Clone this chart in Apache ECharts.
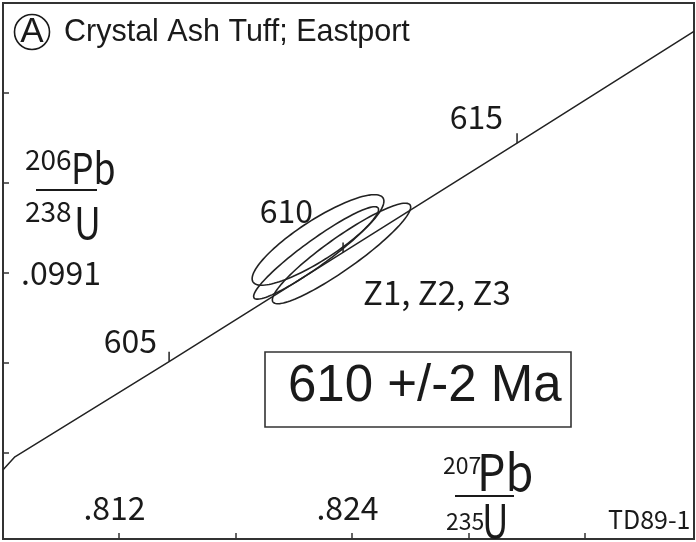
<!DOCTYPE html>
<html>
<head>
<meta charset="utf-8">
<script src="https://cdn.jsdelivr.net/npm/echarts@6/dist/echarts.min.js"></script>
<style>
  html, body { margin: 0; padding: 0; background: #fff; }
  #chart { width: 696px; height: 542px; }
</style>
</head>
<body>
<div id="chart"></div>
<script>
// Concordia curve (207Pb/235U vs 206Pb/238U)
const concX = [0.80603, 0.80664, 0.81458, 0.82354, 0.83250, 0.84161];
const concY = [0.09757, 0.09767, 0.09841, 0.09926, 0.10011, 0.10098];

// Age marks on the concordia (Ma)
const ages = [605, 610, 615];
const ageX = [0.81458, 0.82354, 0.83250];
const ageY = [0.09841, 0.09926, 0.10011];

// Zircon error ellipses Z1, Z2, Z3: centre, half-widths and correlation
const ellipseX = [0.82225, 0.82215, 0.82346];
const ellipseY = [0.099357, 0.099256, 0.099252];
const ellipseErrX = [0.003393, 0.003216, 0.003562];
const ellipseErrY = [0.0003522, 0.0003596, 0.000391];
const ellipseRho = [0.855, 0.939, 0.922];

// Axis ticks and labelled values
const xTicks = [0.812, 0.818, 0.824, 0.830, 0.836];
const xLabels = [0.812, 0.824];
const yTicks = [0.0977, 0.0984, 0.0991, 0.0998, 0.1005];
const yLabels = [0.0991];

const NUM_FONT = '"Noto Sans CJK KR", "Noto Sans", sans-serif';
const TITLE_FONT = '"Liberation Sans", Arial, sans-serif';
const INK = '#1a1a1a';

// label placement relative to each age mark (px)
const ageLabelOffsets = [[-12, -21], [-30, -42], [-14, -26]];

const trimZero = v => String(v).replace(/^0/, '');

const chart = echarts.init(document.getElementById('chart'), null, { renderer: 'canvas' });

// left-anchored text helper for the annotation layer
function label(text, x, y, size, family, sx) {
  return {
    type: 'text', x: x, y: y, scaleX: sx || 1,
    style: { text: text, align: 'left', verticalAlign: 'middle',
      font: size + 'px ' + family, fill: INK }
  };
}

const option = {
  backgroundColor: '#ffffff',
  animation: false,
  grid: {
    left: 3, right: 2, top: 3, bottom: 3,
    show: true, borderColor: '#333', borderWidth: 2, backgroundColor: 'transparent'
  },
  xAxis: {
    type: 'value',
    min: 0.806026, max: 0.841613,
    splitLine: { show: false },
    axisLine: { show: false },
    axisTick: { show: true, inside: true, length: 6, customValues: xTicks,
      lineStyle: { color: '#333', width: 1.5 } },
    axisLabel: {
      show: true, inside: true, customValues: xLabels,
      formatter: trimZero, margin: 31, verticalAlign: 'middle',
      fontFamily: NUM_FONT, fontSize: 32, color: INK, padding: [0, 9, 0, 0]
    }
  },
  yAxis: {
    type: 'value',
    min: 0.097031, max: 0.1012,
    splitLine: { show: false },
    axisLine: { show: false },
    axisTick: { show: true, inside: true, length: 6, customValues: yTicks,
      lineStyle: { color: '#333', width: 1.5 } },
    axisLabel: {
      show: true, inside: true, customValues: yLabels,
      formatter: trimZero, margin: 18, align: 'left', verticalAlign: 'middle',
      fontFamily: NUM_FONT, fontSize: 32, color: INK
    }
  },
  series: [
    {
      name: 'Concordia',
      type: 'line',
      data: concX.map((x, i) => [x, concY[i]]),
      symbol: 'none',
      silent: true,
      lineStyle: { color: '#222', width: 1.5 }
    },
    {
      name: 'Age marks',
      type: 'custom',
      data: ages.map((a, i) => [ageX[i], ageY[i], a]),
      encode: { x: 0, y: 1 },
      silent: true,
      renderItem(params, api) {
        const p = api.coord([api.value(0), api.value(1)]);
        const off = ageLabelOffsets[params.dataIndex];
        return {
          type: 'group',
          children: [
            { type: 'line', shape: { x1: p[0], y1: p[1], x2: p[0], y2: p[1] - 10 },
              style: { stroke: '#222', lineWidth: 1.5 } },
            { type: 'text', x: p[0] + off[0], y: p[1] + off[1],
              style: { text: String(api.value(2)), align: 'right', verticalAlign: 'middle',
                font: '32px ' + NUM_FONT, fill: INK } }
          ]
        };
      }
    },
    {
      name: 'Zircons',
      type: 'custom',
      data: ellipseX.map((x, i) => [x, ellipseY[i], ellipseErrX[i], ellipseErrY[i], ellipseRho[i]]),
      encode: { x: 0, y: 1 },
      silent: true,
      renderItem(params, api) {
        const cx = api.value(0), cy = api.value(1);
        const ex = api.value(2), ey = api.value(3), r = api.value(4);
        const s = Math.sqrt(1 - r * r);
        const pts = [];
        for (let i = 0; i < 120; i++) {
          const t = i / 120 * 2 * Math.PI;
          const dx = ex * Math.cos(t);
          const dy = ey * (r * Math.cos(t) + s * Math.sin(t));
          pts.push(api.coord([cx + dx, cy + dy]));
        }
        return { type: 'polygon', shape: { points: pts },
          style: { fill: 'none', stroke: '#222', lineWidth: 1.6 } };
      }
    }
  ],
  graphic: [
    // title with circled letter
    { type: 'circle', shape: { cx: 32, cy: 32, r: 17.5 },
      style: { fill: 'none', stroke: INK, lineWidth: 1.6 } },
    { type: 'text', x: 32, y: 32.5,
      style: { text: 'A', align: 'center', verticalAlign: 'middle', font: '35px ' + TITLE_FONT, fill: INK } },
    label('Crystal Ash Tuff; Eastport', 64, 33, 30.5, TITLE_FONT),

    // y-axis ratio 206Pb/238U
    label('206', 25, 159, 28, NUM_FONT),
    label('Pb', 71, 168, 42, NUM_FONT, 0.85),
    { type: 'line', shape: { x1: 36, y1: 190, x2: 97, y2: 190 }, style: { stroke: INK, lineWidth: 2 } },
    label('238', 25, 211, 28, NUM_FONT),
    label('U', 74, 222, 44, NUM_FONT, 0.85),

    // x-axis ratio 207Pb/235U
    label('207', 443, 465, 23, NUM_FONT),
    label('Pb', 477, 472, 50, NUM_FONT, 0.9),
    { type: 'line', shape: { x1: 455, y1: 496, x2: 514, y2: 496 }, style: { stroke: INK, lineWidth: 2 } },
    label('235', 446, 521, 23, NUM_FONT),
    label('U', 482, 521, 46, NUM_FONT, 0.8),

    // sample names
    label('Z1, Z2, Z3', 363, 292, 33, NUM_FONT),
    label('TD89-1', 608, 519, 25, NUM_FONT),

    // age result box
    { type: 'rect', shape: { x: 265, y: 352, width: 306, height: 75 },
      style: { fill: '#fff', stroke: '#333', lineWidth: 1.6 } },
    label('610 +/-2 Ma', 288, 387, 51, TITLE_FONT)
  ]
};

chart.setOption(option);
</script>
</body>
</html>
